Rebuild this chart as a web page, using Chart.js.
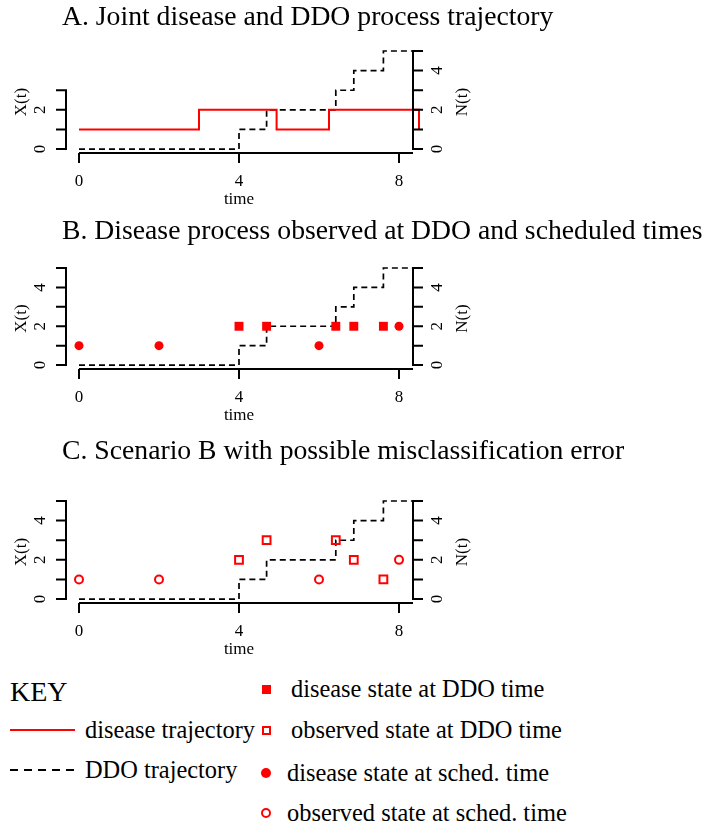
<!DOCTYPE html>
<html>
<head>
<meta charset="utf-8">
<script src="https://cdn.jsdelivr.net/npm/chart.js@4"></script>
<style>
  body { margin: 0; background: #fff; width: 705px; height: 829px; position: relative; overflow: hidden; font-family: "Liberation Serif", serif; }
  canvas { position: absolute; left: 0; }
  .k { position: absolute; white-space: nowrap; height: 30px; line-height: 30px; font-size: 24.4px; color: #000; }
  .mk { position: absolute; box-sizing: border-box; }
</style>
</head>
<body>
<canvas id="pA" width="705" height="215" style="top:0"></canvas>
<canvas id="pB" width="705" height="225" style="top:215px"></canvas>
<canvas id="pC" width="705" height="225" style="top:440px"></canvas>

<!-- key -->
<div class="k" style="left:10px;top:676px;font-size:28px;height:32px;line-height:32px">KEY</div>
<div class="mk" style="left:10px;top:729px;width:65px;height:2px;background:#f00"></div>
<div class="k" style="left:85px;top:715px">disease trajectory</div>
<div class="mk" style="left:10px;top:769px;width:66px;height:2px;background:repeating-linear-gradient(90deg,#000 0 8px,transparent 8px 14px)"></div>
<div class="k" style="left:85px;top:755px">DDO trajectory</div>

<div class="mk" style="left:262px;top:685px;width:9px;height:9px;background:#f00"></div>
<div class="k" style="left:291px;top:674px">disease state at DDO time</div>
<div class="mk" style="left:262px;top:726px;width:9px;height:9px;border:2px solid #f00"></div>
<div class="k" style="left:291px;top:715px">observed state at DDO time</div>
<div class="mk" style="left:261px;top:768px;width:10px;height:10px;border-radius:50%;background:#f00"></div>
<div class="k" style="left:287px;top:758px">disease state at sched. time</div>
<div class="mk" style="left:261px;top:808px;width:10px;height:10px;border-radius:50%;border:2px solid #f00"></div>
<div class="k" style="left:287px;top:798px">observed state at sched. time</div>

<script>
// data
const xTicks = [0, 4, 8];
const diseaseTimes = [0, 3, 4.94, 6.25, 8.5];
const diseaseStates = [1, 2, 1, 2, 1];
const ddoTimes = [0, 4, 4.69, 6.42, 6.87, 7.61, 8.55];
const ddoCounts = [0, 1, 2, 3, 4, 5, 5];
const ddoObsTimes = [4, 4.69, 6.42, 6.87, 7.61];
const ddoTrueStates = [2, 2, 2, 2, 2];
const ddoObsStates = [2, 3, 3, 2, 1];
const schedTimes = [0, 2, 6, 8];
const schedTrueStates = [1, 1, 1, 2];
const schedObsStates = [1, 1, 1, 2];
const titles = [
  'A. Joint disease and DDO process trajectory',
  'B. Disease process observed at DDO and scheduled times',
  'C. Scenario B with possible misclassification error'
];

const pts = (xs, ys) => xs.map((x, i) => ({ x: x, y: ys[i] }));

const ddoLine = () => ({
  data: pts(ddoTimes, ddoCounts), stepped: true, borderColor: '#000',
  borderWidth: 1.7, borderDash: [6, 4], pointRadius: 0, fill: false, clip: false
});

const markers = (xs, ys, style, filled, r) => ({
  data: pts(xs, ys), showLine: false, pointStyle: style, pointRadius: r,
  pointBackgroundColor: filled ? '#f00' : 'rgba(0,0,0,0)', pointBorderColor: '#f00',
  pointBorderWidth: filled ? 0 : 2, clip: false
});

// R-style axes, labels and title
const rAxes = (title, titleY, leftMax) => ({
  id: 'rAxes',
  afterDraw(chart) {
    const { ctx, chartArea: a, scales: { x, y } } = chart;
    ctx.save();
    ctx.strokeStyle = '#000';
    ctx.fillStyle = '#000';
    ctx.lineWidth = 2;
    ctx.beginPath();
    ctx.moveTo(x.getPixelForValue(0), a.bottom);
    ctx.lineTo(a.right, a.bottom);
    xTicks.forEach(t => {
      const px = x.getPixelForValue(t);
      ctx.moveTo(px, a.bottom);
      ctx.lineTo(px, a.bottom + 10);
    });
    ctx.moveTo(a.left, y.getPixelForValue(0) + 1);
    ctx.lineTo(a.left, y.getPixelForValue(leftMax) - 1);
    for (let v = 0; v <= leftMax; v++) {
      const py = y.getPixelForValue(v);
      ctx.moveTo(a.left, py);
      ctx.lineTo(a.left - 10, py);
    }
    ctx.moveTo(a.right, y.getPixelForValue(0) + 1);
    ctx.lineTo(a.right, y.getPixelForValue(5) - 1);
    for (let v = 0; v <= 5; v++) {
      const py = y.getPixelForValue(v);
      ctx.moveTo(a.right, py);
      ctx.lineTo(a.right + 10, py);
    }
    ctx.stroke();

    ctx.font = '17px "Liberation Serif"';
    ctx.textAlign = 'center';
    ctx.textBaseline = 'middle';
    xTicks.forEach(t => ctx.fillText(String(t), x.getPixelForValue(t), a.bottom + 29));
    ctx.fillText('time', (x.getPixelForValue(0) + a.right) / 2 - 7, a.bottom + 47);

    const vtext = (s, px, py) => {
      ctx.save();
      ctx.translate(px, py);
      ctx.rotate(-Math.PI / 2);
      ctx.fillText(s, 0, 0);
      ctx.restore();
    };
    for (let v = 0; v <= leftMax; v += 2) vtext(String(v), a.left - 25, y.getPixelForValue(v));
    for (let v = 0; v <= 5; v += 2) vtext(String(v), a.right + 25, y.getPixelForValue(v));
    const mid = (a.top + a.bottom) / 2;
    vtext('X(t)', a.left - 44, mid);
    vtext('N(t)', a.right + 50, mid);

    ctx.font = '27.7px "Liberation Serif"';
    ctx.textAlign = 'left';
    ctx.textBaseline = 'alphabetic';
    ctx.fillText(title, 62, titleY);
    ctx.restore();
  }
});

const makePanel = (id, datasets, title, titleY, leftMax, pad) => {
  new Chart(document.getElementById(id), {
    type: 'line',
    data: { datasets: datasets },
    options: {
      responsive: false,
      animation: false,
      devicePixelRatio: 1,
      layout: { padding: pad },
      plugins: { legend: { display: false }, tooltip: { enabled: false } },
      scales: {
        x: { type: 'linear', min: -0.325, max: 8.35, display: false },
        y: { type: 'linear', min: -0.2, max: 5, display: false }
      }
    },
    plugins: [rAxes(title, titleY, leftMax)]
  });
};

makePanel('pA', [
  { data: pts(diseaseTimes, diseaseStates), stepped: true, borderColor: '#f00', borderWidth: 2, pointRadius: 0, fill: false, clip: false },
  ddoLine()
], titles[0], 25, 3, { left: 66, right: 292, top: 51, bottom: 62 });

makePanel('pB', [
  markers(ddoObsTimes, ddoTrueStates, 'rect', true, 6.3),
  markers(schedTimes, schedTrueStates, 'circle', true, 4.5),
  ddoLine()
], titles[1], 24, 5, { left: 66, right: 292, top: 53, bottom: 71 });

makePanel('pC', [
  markers(ddoObsTimes, ddoObsStates, 'rect', false, 5.5),
  markers(schedTimes, schedObsStates, 'circle', false, 4),
  ddoLine()
], titles[2], 19, 5, { left: 66, right: 292, top: 61, bottom: 62 });
</script>
</body>
</html>
